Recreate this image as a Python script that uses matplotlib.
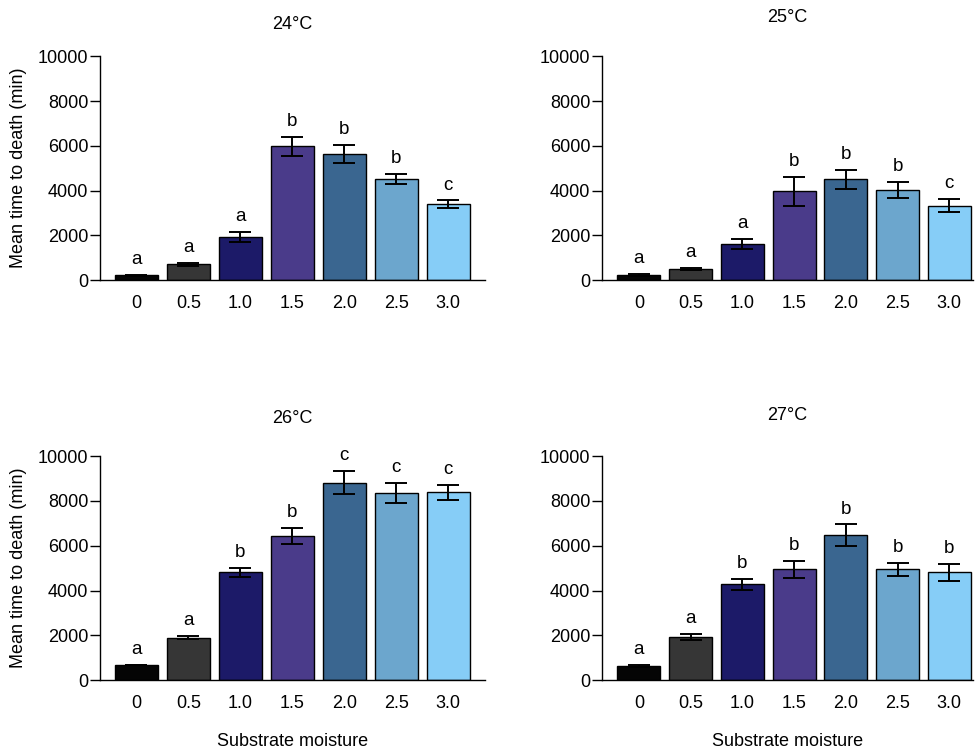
import matplotlib
matplotlib.use('Agg')
import matplotlib.pyplot as plt

plt.rcParams['font.family'] = ['Liberation Sans', 'DejaVu Sans']
plt.rcParams['font.size'] = 13

# Data
moisture = ['0', '0.5', '1.0', '1.5', '2.0', '2.5', '3.0']
temps = ['24°C', '25°C', '26°C', '27°C']

mean_24 = [210, 700, 1930, 5980, 5640, 4520, 3390]
err_24 = [30, 80, 220, 425, 400, 215, 170]
let_24 = ['a', 'a', 'a', 'b', 'b', 'b', 'c']

mean_25 = [220, 500, 1620, 3970, 4510, 4020, 3320]
err_25 = [40, 40, 215, 640, 430, 350, 290]
let_25 = ['a', 'a', 'a', 'b', 'b', 'b', 'c']

mean_26 = [670, 1900, 4810, 6430, 8820, 8350, 8390]
err_26 = [15, 60, 200, 360, 510, 440, 335]
let_26 = ['a', 'a', 'b', 'b', 'c', 'c', 'c']

mean_27 = [640, 1940, 4270, 4940, 6460, 4940, 4820]
err_27 = [40, 135, 260, 380, 490, 285, 380]
let_27 = ['a', 'a', 'b', 'b', 'b', 'b', 'b']

colors = ['#050505', '#363636', '#1c1a68', '#4a3b8a', '#3a6690', '#6ca6cd', '#86cdf7']

panels = [
    (temps[0], mean_24, err_24, let_24),
    (temps[1], mean_25, err_25, let_25),
    (temps[2], mean_26, err_26, let_26),
    (temps[3], mean_27, err_27, let_27),
]

# axes boxes in figure fraction [left, bottom, width, height]
boxes = [
    [0.1025, 0.627, 0.394, 0.298],
    [0.617, 0.627, 0.380, 0.298],
    [0.1025, 0.0945, 0.394, 0.298],
    [0.617, 0.0945, 0.380, 0.298],
]
title_pads = [20, 25, 24, 26]

fig = plt.figure(figsize=(9.76, 7.51), dpi=100)

for i, (title, means, errs, letters) in enumerate(panels):
    ax = fig.add_axes(boxes[i])
    x = list(range(len(moisture)))
    ax.bar(x, means, width=0.83, color=colors, edgecolor='black', linewidth=1.0, zorder=2)
    ax.errorbar(x, means, yerr=errs, fmt='none', ecolor='black', elinewidth=1.4,
                capsize=8, capthick=1.4, zorder=3)
    for xi, m, e, lt in zip(x, means, errs, letters):
        ax.annotate(lt, (xi, m + e), xytext=(0, 5), textcoords='offset points',
                    ha='center', va='bottom', fontsize=13.5)

    ax.set_ylim(0, 10000)
    ax.set_yticks([0, 2000, 4000, 6000, 8000, 10000])
    if i % 2 == 0:
        ax.set_xlim(-0.7, 6.7)
        ax.set_ylabel('Mean time to death (min)', labelpad=8)
    else:
        ax.set_xlim(-0.71, 6.46)
    ax.set_xticks(x)
    ax.set_xticklabels(moisture)
    ax.tick_params(axis='x', length=0, pad=11)
    ax.tick_params(axis='y', length=7, width=1, pad=1.5)
    ax.spines['top'].set_visible(False)
    ax.spines['right'].set_visible(False)
    ax.spines['left'].set_linewidth(1.0)
    ax.spines['bottom'].set_linewidth(1.0)
    ax.set_title(title, fontsize=13, pad=title_pads[i])
    if i >= 2:
        ax.set_xlabel('Substrate moisture', labelpad=15)

fig.savefig('out.png', dpi=100)
plt.close(fig)
